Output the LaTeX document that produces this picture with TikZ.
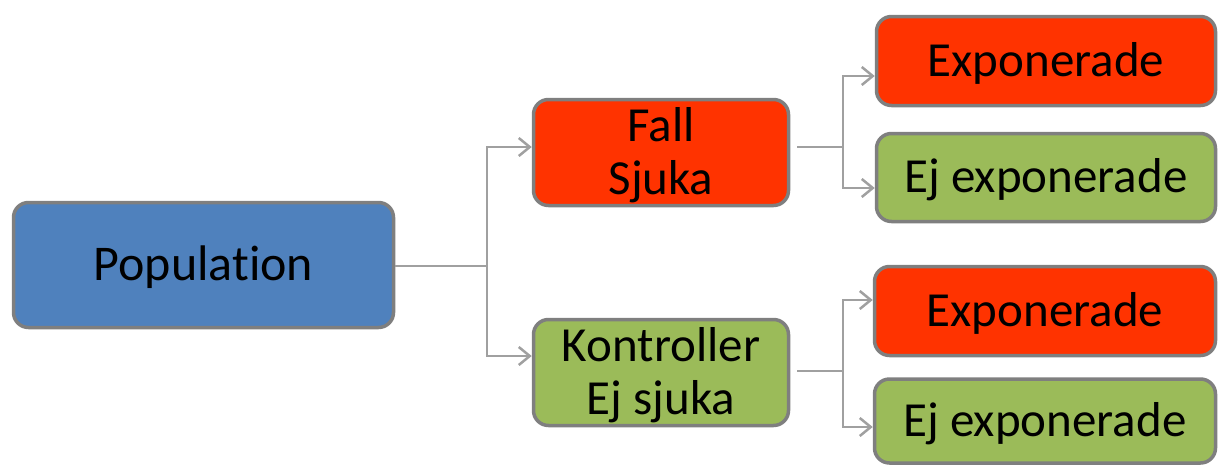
\documentclass[tikz,border=0pt]{standalone}
\usepackage{fontspec}
\setmainfont{Carlito}[Ligatures={NoCommon}]
\usetikzlibrary{arrows.meta}
\definecolor{popblue}{HTML}{4F81BD}
\definecolor{casered}{HTML}{FF3300}
\definecolor{ctrlgreen}{HTML}{9BBB59}
\definecolor{rim}{HTML}{7F7F7F}
\definecolor{wire}{HTML}{A0A0A0}
% lower the label a little inside its box without changing the box size
\newcommand\boxtext[1]{\raisebox{-4.5pt}[\height][\depth]{\begin{tabular}{@{}c@{}}#1\end{tabular}}}
\tikzset{
  box/.style={draw=rim, line width=3.5pt, rounded corners=15pt, align=center,
    inner sep=0pt, font=\fontsize{49}{53}\selectfont},
  link/.style={draw=wire, line width=2.5pt},
  arr/.style={link, -{Straight Barb[length=11pt,width=18pt,line width=2.5pt]}},
}
\begin{document}
\begin{tikzpicture}[x=1pt,y=-1pt]
  \useasboundingbox (0,0) rectangle (1219,464);
  % boxes
  \node[box, fill=popblue, minimum width=380pt, minimum height=125pt,
        font=\fontsize{50}{54}\selectfont] (pop) at (203.5,265) {\boxtext{Population}};
  \node[box, fill=casered, minimum width=255pt, minimum height=106pt] (fall) at (661,152.5) {\boxtext{Fall\\Sjuka}};
  \node[box, fill=ctrlgreen, minimum width=255pt, minimum height=106pt] (ctrl) at (661,372.5) {\boxtext{Kontroller\\Ej sjuka}};
  \node[box, fill=casered, minimum width=339pt, minimum height=89pt] (exA) at (1046,61) {\boxtext{Exponerade}};
  \node[box, fill=ctrlgreen, minimum width=339pt, minimum height=88pt] (nexA) at (1046,177.5) {\boxtext{Ej exponerade}};
  \node[box, fill=casered, minimum width=341pt, minimum height=89pt] (exB) at (1045,311) {\boxtext{Exponerade}};
  \node[box, fill=ctrlgreen, minimum width=341pt, minimum height=84pt] (nexB) at (1045,421) {\boxtext{Ej exponerade}};
  % branch points
  \coordinate (jp) at (487,266);
  \coordinate (jf) at (843,147);
  \coordinate (jc) at (843,371);
  % population splits into cases and controls
  \draw[link] (pop.east |- jp) -- (jp);
  \draw[arr] (jp) |- ([yshift=5.5pt]fall.west);
  \draw[arr] (jp) |- ([yshift=16.5pt]ctrl.west);
  % cases split by exposure
  \draw[link] ([xshift=7pt]fall.east |- jf) -- (jf);
  \draw[arr] (jf) |- ([yshift=-15pt]exA.west);
  \draw[arr] (jf) |- ([yshift=-10.5pt]nexA.west);
  % controls split by exposure
  \draw[link] ([xshift=7pt]ctrl.east |- jc) -- (jc);
  \draw[arr] (jc) |- ([yshift=11pt]exB.west);
  \draw[arr] (jc) |- ([yshift=-6pt]nexB.west);
\end{tikzpicture}
\end{document}
